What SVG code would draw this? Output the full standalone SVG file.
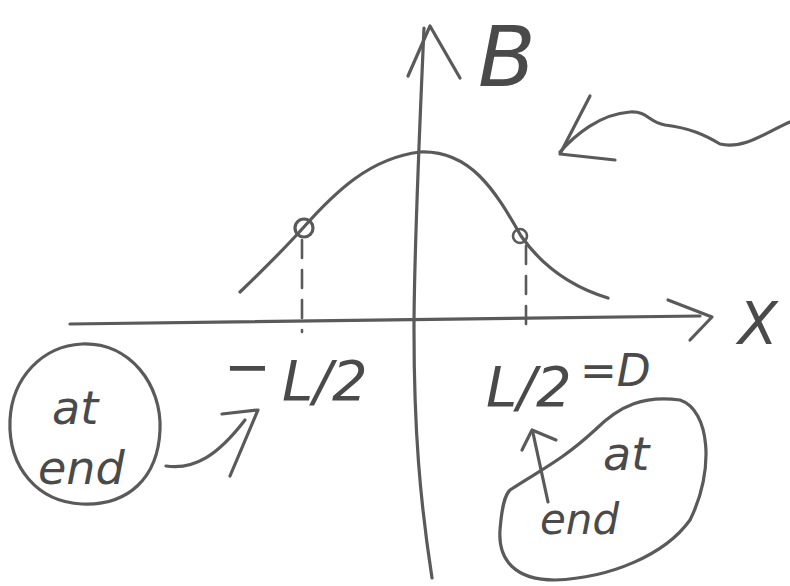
<svg xmlns="http://www.w3.org/2000/svg" width="790" height="586" viewBox="0 0 790 586">
<style>
.s{fill:none;stroke:#5a5a5a;stroke-width:3.2;stroke-linecap:round;stroke-linejoin:round}
.t{stroke-width:2.6}
.d{stroke-dasharray:18 12}
.h{font-family:"DejaVu Sans",sans-serif;font-style:oblique;fill:#4a4a4a}
</style>
<rect width="790" height="586" fill="#fff"/>
<g id="axes">
<path class="s" d="M70 324 C250 322 450 320 700 316"/>
<path class="s" d="M668 300 L712 317 L690 340"/>
<path class="s" d="M424 28 C420 120 414 250 414 330 C414 430 420 500 432 578"/>
<path class="s" d="M408 76 L430 26 L460 78"/>
</g>
<g id="curve">
<path class="s" d="M240 292 C265 268 285 248 303 228 C335 192 370 158 420 152 C470 150 495 190 521 236 C545 270 575 288 608 298"/>
<circle class="s" cx="304" cy="228" r="9"/>
<circle class="s t" cx="520" cy="236" r="7"/>
<path class="s t d" d="M302 240 L302 332"/>
<path class="s t d" d="M526 246 L526 332"/>
</g>
<g id="labels">
<text class="h" x="478" y="86" font-size="84">B</text>
<text class="h" x="738" y="344" font-size="58">X</text>
<text class="h" x="224" y="386" font-size="56">−</text>
<text class="h" x="282" y="400" font-size="56">L/2</text>
<text class="h" x="486" y="406" font-size="56">L/2</text>
<text class="h" x="580" y="386" font-size="44">=D</text>
</g>
<g id="note-left">
<path class="s" d="M82 344 C130 342 162 385 160 430 C158 478 128 506 82 504 C38 502 8 468 10 420 C12 378 42 346 82 344 Z"/>
<text class="h" x="52" y="424" font-size="46">at</text>
<text class="h" x="38" y="484" font-size="46">end</text>
<path class="s" d="M166 466 C195 470 218 455 245 420"/>
<path class="s" d="M222 414 L258 410 L230 476"/>
</g>
<g id="note-right">
<path class="s" d="M510 490 C540 470 560 462 595 430 C620 405 645 395 680 400 C710 410 715 470 690 520 C665 555 610 578 555 580 C515 580 498 560 500 530 C502 505 505 495 510 490 Z"/>
<text class="h" x="603" y="470" font-size="46">at</text>
<text class="h" x="540" y="534" font-size="42">end</text>
<path class="s" d="M548 502 L533 433"/>
<path class="s" d="M522 450 L532 430 L556 440"/>
</g>
<g id="pointer">
<path class="s" d="M560 152 C575 135 600 114 630 112 C648 111 648 122 665 125 C690 128 705 135 720 144 C745 150 770 130 790 122"/>
<path class="s" d="M590 96 L560 154 L615 160"/>
</g>
</svg>
